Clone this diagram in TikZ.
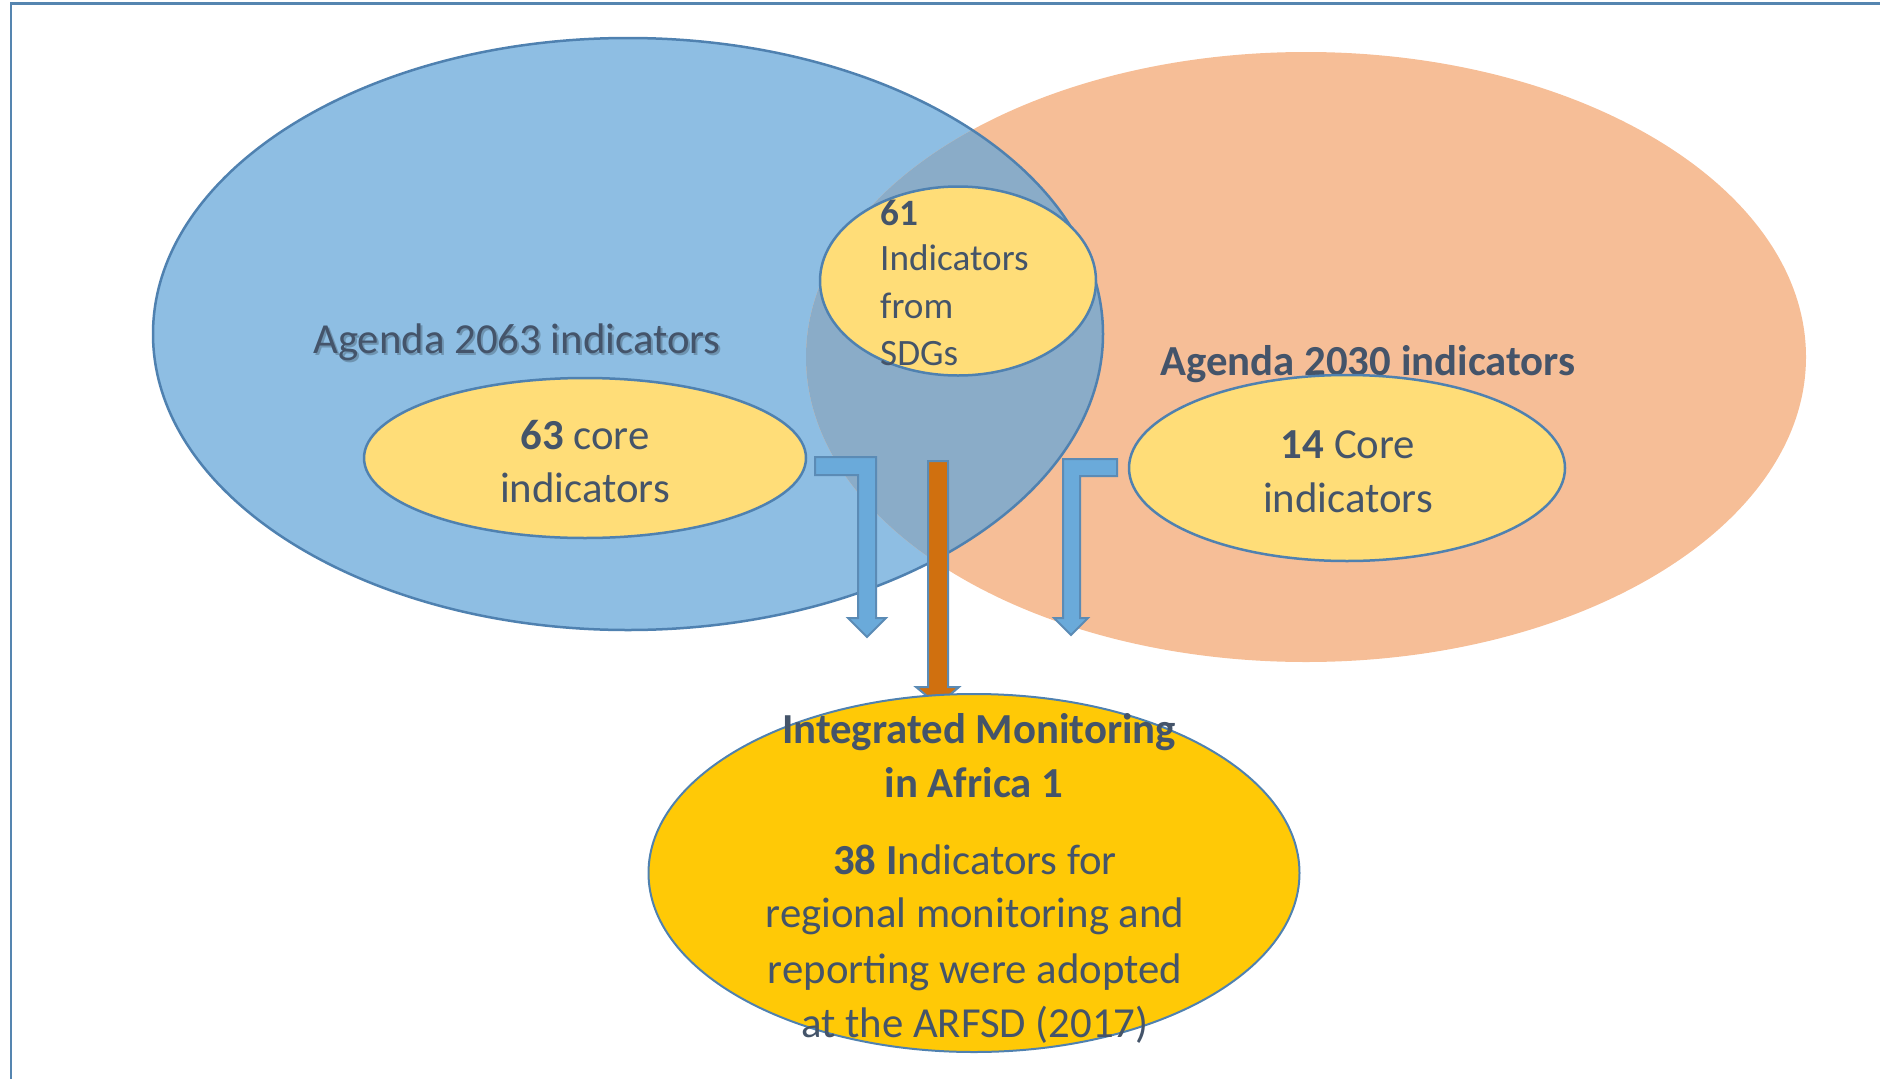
\documentclass[tikz,border=0pt]{standalone}
\usepackage{fontspec}
\setmainfont{Carlito}
\usetikzlibrary{shapes.geometric}
\definecolor{frameC}{HTML}{5585B0}
\definecolor{strokeC}{HTML}{4F81B0}
\definecolor{blueF}{HTML}{8EBEE3}
\definecolor{orangeF}{HTML}{F6BE97}
\definecolor{overF}{HTML}{8AACC8}
\definecolor{yellowF}{HTML}{FFDD78}
\definecolor{goldF}{HTML}{FFC906}
\definecolor{txtC}{HTML}{44546A}
\definecolor{arrBlue}{HTML}{6AAADA}
\definecolor{arrStroke}{HTML}{5B8BB5}
\definecolor{arrOrange}{HTML}{D0700F}
\begin{document}
\begin{tikzpicture}[x=1pt,y=-1pt,
  big/.style={font=\fontsize{42.8}{54}\selectfont, text=txtC, inner sep=0pt},
  bigb/.style={font=\fontsize{42.8}{54}\selectfont\bfseries, text=txtC, inner sep=0pt},
  small/.style={font=\fontsize{37.2}{47}\selectfont, text=txtC, inner sep=0pt},
  yell/.style={ellipse, draw=strokeC, line width=2.5pt, fill=yellowF, inner sep=0pt},
  blockarrow/.style={draw=arrStroke, line width=2pt, line join=miter}
]
\useasboundingbox (0,0) rectangle (1880,1079);
% frame
\draw[frameC, line width=2.5pt] (11,1079) -- (11,3.5) -- (1880,3.5);
% big sets
\fill[blueF] (628,334) ellipse [x radius=475pt, y radius=296pt];
\fill[orangeF] (1306,357) ellipse [x radius=500pt, y radius=305pt];
\begin{scope}
  \clip (628,334) ellipse [x radius=475pt, y radius=296pt];
  \fill[overF] (1306,357) ellipse [x radius=500pt, y radius=305pt];
\end{scope}
\draw[strokeC, line width=2.5pt] (628,334) ellipse [x radius=475pt, y radius=296pt];
% set titles
\node[big, anchor=base, text=black, opacity=0.22] at (519,355.5) {Agenda 2063 indicators};
\node[big, anchor=base] (t2063) at (517,353) {Agenda 2063 indicators};
\node[bigb, anchor=base] (t2030) at (1368,375) {Agenda 2030 indicators};
% inner ellipses
\node[yell, minimum width=442pt, minimum height=160pt] (e63) at (585,458) {};
\node[yell, minimum width=436pt, minimum height=186pt] (e14) at (1347,468) {};
\node[yell, minimum width=276pt, minimum height=189pt] (e61) at (958,281) {};
\node[big, anchor=base] (l63a) at (585,449) {\textbf{63} core};
\node[big, anchor=base] (l63b) at (585,502) {indicators};
\node[big, anchor=base] (l14a) at (1348,458) {\textbf{14} Core};
\node[big, anchor=base] (l14b) at (1348,512) {indicators};
\node[small, anchor=base west] (l61a) at (880,225) {\textbf{61}};
\node[small, anchor=base west] (l61b) at (880,270) {Indicators};
\node[small, anchor=base west] (l61c) at (880,318) {from};
\node[small, anchor=base west] (l61d) at (880,365) {SDGs};
% block arrows
\draw[blockarrow, fill=arrBlue] (815,457) -- (876,457) -- (876,618) -- (886,618) -- (867,637) -- (848,618) -- (858,618) -- (858,475) -- (815,475) -- cycle;
\draw[blockarrow, fill=arrBlue] (1117,459) -- (1063,459) -- (1063,618) -- (1054,618) -- (1071,635) -- (1088,618) -- (1080,618) -- (1080,476) -- (1117,476) -- cycle;
\draw[blockarrow, fill=arrOrange] (928,461) -- (948,461) -- (948,687) -- (959,687) -- (938,705) -- (916,687) -- (928,687) -- cycle;
% result
\node[ellipse, draw=strokeC, line width=2pt, fill=goldF, inner sep=0pt, minimum width=651pt, minimum height=358pt] (res) at (974,873) {};
\node[bigb, anchor=base] (r1) at (979,743) {Integrated Monitoring};
\node[bigb, anchor=base] (r2) at (974,797) {in Africa 1};
\node[big, anchor=base] (r3) at (975,874) {\textbf{38 I}ndicators for};
\node[big, anchor=base] (r4) at (975,927) {regional monitoring and};
\node[big, anchor=base] (r5) at (975,983) {reporting were adopted};
\node[big, anchor=base] (r6) at (975,1037) {at the ARFSD (2017)};
\end{tikzpicture}
\end{document}
